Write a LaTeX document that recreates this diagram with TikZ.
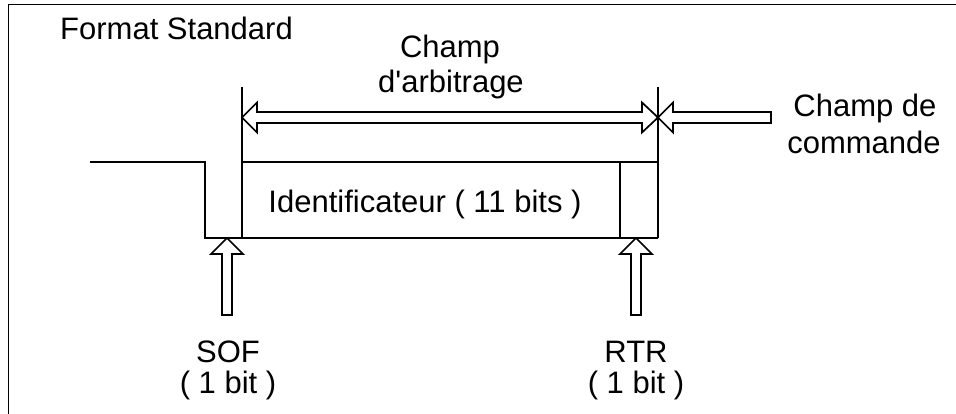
\documentclass[tikz,border=0pt]{standalone}
\usepackage{fontspec}
\setmainfont{Liberation Sans}
\begin{document}
\begin{tikzpicture}[x=1pt,y=-1pt,
  ln/.style={line width=1.7pt,line join=miter},
  hollow/.style={line width=1.7pt,fill=white,line join=miter},
  lbl/.style={font=\fontsize{31}{37}\selectfont,inner sep=0pt,anchor=base}]
\useasboundingbox (0,0) rectangle (956,414);
% frame
\draw[ln] (8.5,414) -- (8.5,4.5) -- (956,4.5);
% signal and box
\draw[ln] (90,162) -- (205,162) -- (205,238) -- (658,238);
\draw[ln] (242,162) -- (658,162);
\draw[ln] (242,87) -- (242,238);
\draw[ln] (658,87) -- (658,238);
\draw[ln] (620,162) -- (620,238);
% arbitration double arrow
\draw[hollow] (242,117.5) -- (257,102.5) -- (257,112) -- (642,112) -- (642,102.5) -- (658,117.5)
  -- (642,132.5) -- (642,123) -- (257,123) -- (257,132.5) -- cycle;
% command arrow
\draw[hollow] (658,117.5) -- (673,102.5) -- (673,112) -- (771,112) -- (771,123) -- (673,123) -- (673,132.5) -- cycle;
% SOF arrow
\draw[hollow] (227,238) -- (243,254) -- (232,254) -- (232,315) -- (222,315) -- (222,254) -- (211,254) -- cycle;
% RTR arrow
\draw[hollow] (636,238) -- (652,254) -- (641,254) -- (641,315) -- (631,315) -- (631,254) -- (620,254) -- cycle;
% texts
\node[lbl,anchor=base west] (fmt) at (60,40) {Format Standard};
\node[lbl] (ch1) at (450,58) {Champ};
\node[lbl] (ch2) at (451,93) {d\textquotesingle arbitrage};
\node[lbl] (cc1) at (865,117) {Champ de};
\node[lbl] (cc2) at (864,154) {commande};
\node[lbl] (id) at (425,213) {Identificateur ( 11 bits )};
\node[lbl] (sof) at (228,362) {SOF};
\node[lbl] (sofb) at (228,393) {( 1 bit )};
\node[lbl] (rtr) at (636,362) {RTR};
\node[lbl] (rtrb) at (636,393) {( 1 bit )};
\end{tikzpicture}
\end{document}
